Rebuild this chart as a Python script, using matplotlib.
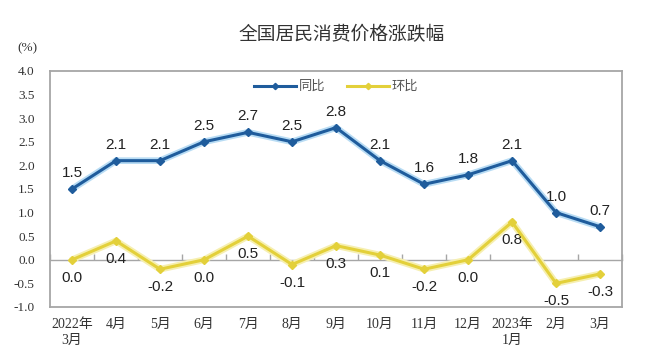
import numpy as np
import matplotlib
matplotlib.use("Agg")
import matplotlib.pyplot as plt

categories = ["2022年\n3月", "4月", "5月", "6月", "7月", "8月", "9月", "10月",
              "11月", "12月", "2023年\n1月", "2月", "3月"]
yoy = [1.5, 2.1, 2.1, 2.5, 2.7, 2.5, 2.8, 2.1, 1.6, 1.8, 2.1, 1.0, 0.7]
mom = [0.0, 0.4, -0.2, 0.0, 0.5, -0.1, 0.3, 0.1, -0.2, 0.0, 0.8, -0.5, -0.3]
yticks = [-1.0, -0.5, 0.0, 0.5, 1.0, 1.5, 2.0, 2.5, 3.0, 3.5, 4.0]

title = "全国居民消费价格涨跌幅"
unit = "(%)"
series_names = ["同比", "环比"]

serif = ["Liberation Serif", "Noto Sans CJK SC"]
sans = ["Liberation Sans", "Noto Sans CJK SC"]

fig = plt.figure(figsize=(6.48, 3.58), dpi=100)
ax = fig.add_axes([0.0772, 0.1425, 0.8828, 0.6592])

x = np.arange(len(categories))
blue = "#1f5c9c"
yellow = "#e3d03a"
blue_glow = "#b8dcf4"
yellow_glow = "#f6efb0"

# soft glow under lines
ax.plot(x, yoy, color=blue_glow, lw=4.8, solid_capstyle="round", solid_joinstyle="round", zorder=3)
ax.plot(x, mom, color=yellow_glow, lw=4.8, solid_capstyle="round", solid_joinstyle="round", zorder=3)
l1, = ax.plot(x, yoy, color=blue, lw=2.2, marker="D", ms=4, mec=blue, mfc=blue,
              label=series_names[0], zorder=4)
l2, = ax.plot(x, mom, color=yellow, lw=2.2, marker="D", ms=4, mec=yellow, mfc=yellow,
              label=series_names[1], zorder=4)

for xi, v in zip(x, yoy):
    ax.annotate(f"{v:.1f}", (xi, v), xytext=(0, 16), textcoords="offset pixels",
                ha="center", va="center", fontsize=11, family=sans, color="#222222")
for xi, v in zip(x, mom):
    ax.annotate(f"{v:.1f}", (xi, v), xytext=(0, -18), textcoords="offset pixels",
                ha="center", va="center", fontsize=11, family=sans, color="#222222")

ax.set_xlim(-0.5, len(categories) - 0.5)
ax.set_ylim(-1.0, 4.0)
ax.set_yticks(yticks)
ax.set_yticklabels([f"{t:.1f}" for t in yticks], family=serif, fontsize=9.5, color="#333333")
ax.set_xticks(x)
ax.set_xticklabels(categories, family=serif, fontsize=10, color="#333333", linespacing=1.25)
ax.tick_params(axis="both", length=0)
ax.tick_params(axis="y", pad=11)
ax.tick_params(axis="x", pad=8)

for s in ax.spines.values():
    s.set_color("#a6a6a6")
    s.set_linewidth(1.3)

# zero line with boundary ticks
sec = ax.secondary_xaxis((0 - (-1.0)) / 5.0)
sec.set_xticks(np.arange(len(categories) + 1) - 0.5)
sec.set_xticklabels([])
sec.tick_params(direction="in", length=4, color="#a6a6a6", width=1)
sec.spines["bottom"].set_color("#a6a6a6")
sec.spines["bottom"].set_linewidth(1.0)

leg = ax.legend(handles=[l1, l2], loc="center", bbox_to_anchor=(0.5, 0.932), ncol=2,
                frameon=False, prop={"family": sans, "size": 9.5}, handlelength=3.2,
                columnspacing=1.6, handletextpad=0.2, markerscale=0.8)
for t in leg.get_texts():
    t.set_color("#555555")

fig.text(0.527, 0.902, title, ha="center", va="center", fontsize=13.5,
         family=["Noto Sans CJK SC", "DejaVu Sans"], color="#333333")
fig.text(0.042, 0.866, unit, ha="center", va="center", fontsize=9.5, family=serif, color="#333333")

fig.savefig("out.png", dpi=100, facecolor="white")
